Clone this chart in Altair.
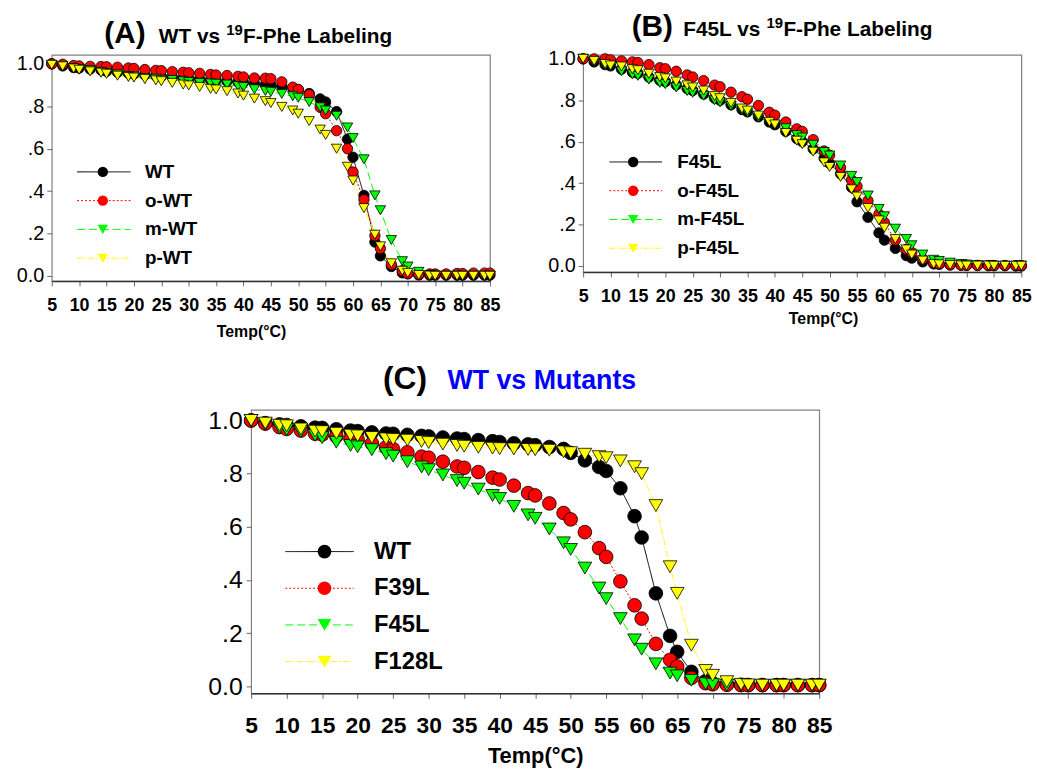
import altair as alt
import pandas as pd

TEMPS = [5, 7, 9, 10, 12, 14, 15, 17, 19, 20, 22, 24, 25, 27, 29, 30, 32, 34, 35,
         37, 39, 40, 42, 44, 45, 47, 49, 50, 52, 54, 55, 57, 59, 60, 62, 64, 65,
         67, 69, 70, 72, 74, 75, 77, 79, 80, 82, 84, 85]

# Panel A
NAMES_A = ["WT", "o-WT", "m-WT", "p-WT"]
A_WT = [1.0, 0.99, 0.982, 0.98, 0.975, 0.97, 0.965, 0.96, 0.955, 0.952, 0.948, 0.943, 0.94,
        0.937, 0.934, 0.932, 0.928, 0.924, 0.922, 0.918, 0.914, 0.912, 0.907, 0.902, 0.9,
        0.893, 0.885, 0.878, 0.86, 0.835, 0.82, 0.775, 0.645, 0.56, 0.38, 0.16, 0.095,
        0.045, 0.015, 0.01, 0.005, 0.004, 0.004, 0.004, 0.004, 0.004, 0.004, 0.004, 0.004]
A_OWT = [1.0, 0.998, 0.992, 0.99, 0.988, 0.987, 0.986, 0.984, 0.98, 0.978, 0.973, 0.969, 0.968,
         0.963, 0.96, 0.958, 0.955, 0.95, 0.947, 0.945, 0.941, 0.938, 0.933, 0.932, 0.93,
         0.915, 0.89, 0.879, 0.855, 0.795, 0.765, 0.685, 0.60, 0.49, 0.36, 0.19, 0.13,
         0.055, 0.025, 0.012, 0.008, 0.01, 0.01, 0.01, 0.012, 0.012, 0.014, 0.014, 0.014]
A_MWT = [0.995, 0.99, 0.98, 0.975, 0.97, 0.962, 0.956, 0.95, 0.942, 0.94, 0.933, 0.93, 0.925,
         0.924, 0.918, 0.914, 0.91, 0.908, 0.906, 0.902, 0.895, 0.891, 0.88, 0.872, 0.868,
         0.858, 0.847, 0.84, 0.82, 0.795, 0.78, 0.755, 0.70, 0.65, 0.55, 0.38, 0.31,
         0.17, 0.07, 0.045, 0.02, 0.005, 0.003, 0.002, 0.002, 0.002, 0.002, 0.002, 0.002]
A_PWT = [0.995, 0.988, 0.978, 0.972, 0.964, 0.958, 0.953, 0.944, 0.938, 0.935, 0.928, 0.922, 0.918,
         0.91, 0.902, 0.898, 0.891, 0.882, 0.879, 0.871, 0.86, 0.85, 0.836, 0.824, 0.815,
         0.797, 0.78, 0.765, 0.73, 0.69, 0.665, 0.60, 0.515, 0.45, 0.32, 0.195, 0.14,
         0.06, 0.025, 0.015, 0.005, 0.002, 0.001, 0.001, 0.001, 0.001, 0.001, 0.001, 0.001]

# Panel B
NAMES_B = ["F45L", "o-F45L", "m-F45L", "p-F45L"]
B_F45L = [1.0, 0.985, 0.972, 0.966, 0.95, 0.935, 0.93, 0.912, 0.896, 0.89, 0.874, 0.856, 0.847,
          0.83, 0.81, 0.80, 0.778, 0.755, 0.744, 0.72, 0.695, 0.682, 0.65, 0.615, 0.60,
          0.565, 0.52, 0.495, 0.445, 0.38, 0.31, 0.235, 0.16, 0.125, 0.085, 0.05, 0.038,
          0.02, 0.01, 0.008, 0.005, 0.004, 0.003, 0.003, 0.002, 0.002, 0.002, 0.0, 0.0]
B_OF45L = [1.0, 1.0, 1.0, 0.995, 0.99, 0.985, 0.982, 0.972, 0.957, 0.952, 0.94, 0.922, 0.912,
           0.895, 0.873, 0.865, 0.839, 0.817, 0.805, 0.775, 0.742, 0.728, 0.695, 0.662, 0.65,
           0.61, 0.555, 0.535, 0.475, 0.415, 0.385, 0.315, 0.25, 0.21, 0.125, 0.08, 0.065,
           0.035, 0.016, 0.01, 0.006, 0.004, 0.003, 0.002, 0.002, 0.002, 0.002, 0.002, 0.002]
B_MF45L = [1.0, 0.985, 0.968, 0.962, 0.94, 0.925, 0.918, 0.90, 0.884, 0.878, 0.862, 0.845, 0.836,
           0.822, 0.80, 0.79, 0.772, 0.752, 0.74, 0.717, 0.695, 0.682, 0.665, 0.632, 0.62,
           0.585, 0.55, 0.533, 0.485, 0.435, 0.405, 0.34, 0.275, 0.24, 0.18, 0.13, 0.10,
           0.055, 0.03, 0.024, 0.016, 0.009, 0.007, 0.004, 0.003, 0.002, 0.002, 0.002, 0.002]
B_PF45L = [1.0, 0.99, 0.975, 0.968, 0.963, 0.95, 0.945, 0.928, 0.912, 0.906, 0.89, 0.872, 0.862,
           0.847, 0.82, 0.81, 0.787, 0.76, 0.75, 0.726, 0.696, 0.683, 0.642, 0.605, 0.588,
           0.552, 0.50, 0.478, 0.43, 0.37, 0.335, 0.28, 0.22, 0.185, 0.13, 0.08, 0.055,
           0.026, 0.01, 0.008, 0.005, 0.003, 0.002, 0.002, 0.002, 0.001, 0.001, 0.001, 0.001]

# Panel C
NAMES_C = ["WT", "F39L", "F45L", "F128L"]
C_WT = [1.0, 0.99, 0.985, 0.983, 0.978, 0.973, 0.972, 0.967, 0.962, 0.96, 0.955, 0.951, 0.95,
        0.946, 0.942, 0.94, 0.936, 0.932, 0.93, 0.926, 0.922, 0.919, 0.914, 0.91, 0.907,
        0.9, 0.893, 0.878, 0.85, 0.825, 0.81, 0.745, 0.64, 0.56, 0.35, 0.19, 0.13,
        0.055, 0.02, 0.012, 0.008, 0.006, 0.005, 0.005, 0.005, 0.005, 0.005, 0.005, 0.005]
C_F39L = [1.0, 0.988, 0.975, 0.968, 0.962, 0.95, 0.947, 0.94, 0.932, 0.928, 0.914, 0.899, 0.892,
          0.88, 0.864, 0.86, 0.845, 0.827, 0.822, 0.806, 0.785, 0.778, 0.755, 0.727, 0.718,
          0.688, 0.652, 0.628, 0.58, 0.52, 0.487, 0.395, 0.305, 0.255, 0.16, 0.10, 0.075,
          0.032, 0.012, 0.008, 0.006, 0.005, 0.005, 0.005, 0.005, 0.005, 0.005, 0.005, 0.005]
C_F45L = [1.0, 0.985, 0.972, 0.966, 0.958, 0.944, 0.935, 0.918, 0.906, 0.901, 0.89, 0.875, 0.866,
          0.845, 0.825, 0.815, 0.795, 0.774, 0.764, 0.742, 0.718, 0.707, 0.677, 0.645, 0.632,
          0.592, 0.54, 0.515, 0.445, 0.37, 0.33, 0.255, 0.175, 0.14, 0.085, 0.05, 0.04,
          0.023, 0.01, 0.007, 0.005, 0.004, 0.004, 0.004, 0.004, 0.004, 0.004, 0.004, 0.004]
C_F128L = [1.0, 0.99, 0.982, 0.98, 0.968, 0.96, 0.958, 0.952, 0.945, 0.942, 0.936, 0.931, 0.929,
           0.926, 0.921, 0.917, 0.911, 0.906, 0.903, 0.899, 0.896, 0.894, 0.893, 0.891, 0.89,
           0.888, 0.882, 0.879, 0.873, 0.864, 0.86, 0.848, 0.826, 0.80, 0.68, 0.45, 0.35,
           0.155, 0.06, 0.042, 0.018, 0.008, 0.006, 0.005, 0.005, 0.005, 0.005, 0.005, 0.005]

X_TICKS = list(range(5, 90, 5))
Y_TICKS = [0, 0.2, 0.4, 0.6, 0.8, 1.0]

COLORS = ["#000000", "#ff0000", "#00ff00", "#ffff00"]
DASHES = [[1, 0], [2, 2], [8, 4], [6, 2, 1.5, 2]]
SHAPES = ["circle", "circle", "triangle-down", "triangle-down"]

FONT = "Liberation Sans"

Y_EXPR = ("datum.value == 0 ? '0.0' : (datum.value == 1 ? '1.0' : "
          "replace(format(datum.value, '.1f'), '0.', '.'))")


def text_mark(txt, x, y, size, color="#000"):
    return alt.Chart(pd.DataFrame({"t": [txt]})).mark_text(
        font=FONT, fontSize=size, fontWeight="bold", align="left",
        baseline="alphabetic", color=color).encode(
        text="t:N", x=alt.value(x), y=alt.value(y))


def panel(names, series, p):
    rows = []
    for name, vals in zip(names, series):
        for t, v in zip(TEMPS, vals):
            rows.append({"T": t, "v": v, "series": name})
    df = pd.DataFrame(rows)
    keys = [n + " " for n in names]

    xs = alt.Scale(domain=[5, 85], nice=False, zero=False)
    ys = alt.Scale(domain=p["ydom"], nice=False, zero=False)
    xextra = {"titleX": p["titleX"]} if "titleX" in p else {}
    xaxis = alt.Axis(values=X_TICKS, tickCount=len(X_TICKS) + 4, title="Temp(°C)", grid=False,
                     labelFont=FONT, labelFontWeight="bold", labelFontSize=p["xls"],
                     labelColor="#000", labelPadding=p["xlp"], labelOverlap=False,
                     labelFlush=False, tickSize=5, tickColor="#666", tickWidth=1,
                     domain=True, domainColor="#333", domainWidth=1.5,
                     titleFont=FONT, titleFontWeight="bold", titleFontSize=p["xts"],
                     titleColor="#000", titlePadding=p["xtp"], **xextra)
    yaxis = alt.Axis(values=Y_TICKS, tickCount=len(Y_TICKS) + 2, labelExpr=Y_EXPR, title=None,
                     grid=False, labelFont=FONT, labelFontWeight="normal",
                     labelFontSize=p["yls"], labelColor="#000", labelPadding=p["ylp"],
                     labelOverlap=False, labelFlush=False, tickSize=5, tickColor="#666",
                     tickWidth=1, domain=False)

    line_leg = alt.Legend(orient="none", legendX=p["lx"], legendY=p["ly"], title=None,
                          symbolType="stroke", symbolSize=p["lw"] ** 2, symbolStrokeWidth=1,
                          clipHeight=p["ch"], rowPadding=p["rp"], padding=0,
                          labelExpr="''", labelFontSize=p["lfs"], labelFont=FONT)
    mk_leg = alt.Legend(orient="none", legendX=p["mx"], legendY=p["ly"], title=None,
                        symbolSize=p["ms"], symbolStrokeColor="#000", symbolStrokeWidth=0.8,
                        symbolOpacity=1, clipHeight=p["ch"], rowPadding=p["rp"], padding=0,
                        labelOffset=p["lo"], labelColor="#000", labelFontSize=p["lfs"],
                        labelFont=FONT, labelFontWeight="bold")

    base = alt.Chart(df)
    lines = base.transform_calculate(key="datum.series + ' '").mark_line(strokeWidth=1).encode(
        x=alt.X("T:Q", scale=xs, axis=xaxis),
        y=alt.Y("v:Q", scale=ys, axis=yaxis),
        color=alt.Color("key:N", scale=alt.Scale(domain=keys, range=COLORS), legend=line_leg),
        strokeDash=alt.StrokeDash("key:N", scale=alt.Scale(domain=keys, range=DASHES),
                                  legend=line_leg),
    )
    pts = base.mark_point(filled=True, opacity=1, stroke="#000", strokeWidth=0.8,
                          size=p["ms"]).encode(
        x=alt.X("T:Q"),
        y=alt.Y("v:Q"),
        fill=alt.Fill("series:N", scale=alt.Scale(domain=names, range=COLORS), legend=mk_leg),
        shape=alt.Shape("series:N", scale=alt.Scale(domain=names, range=SHAPES), legend=mk_leg),
    )
    texts = [text_mark(*seg) for seg in p["title_segments"]]
    return alt.layer(lines, pts, *texts).properties(width=p["w"], height=p["h"])


# title segments: (text, x, y, font size[, colour]) relative to the plot's top-left corner
PA = dict(ydom=[-0.023, 1.042], w=442, h=228, xls=18, xlp=11, xts=16, xtp=9,
          titleX=201, yls=20, ylp=3, lx=25, mx=42, ly=108, lw=54, ch=20, rp=9, lfs=19,
          ms=110, lo=33,
          title_segments=[("(A)", 53, -12, 30), ("WT vs", 108, -12, 21),
                          ("19", 176, -20, 15), ("F-Phe Labeling", 193, -12, 21)])
PB = dict(ydom=[-0.029, 1.019], w=442, h=219, xls=18, xlp=11, xts=16, xtp=5,
          titleX=242, yls=20, ylp=3, lx=26, mx=41, ly=98, lw=53, ch=20, rp=9, lfs=19,
          ms=110, lo=35,
          title_segments=[("(B)", 49, -19, 30), ("F45L vs", 101, -19, 21),
                          ("19", 185, -27, 15), ("F-Phe Labeling", 202, -19, 21)])
PC = dict(ydom=[-0.026, 1.04], w=573, h=286, xls=23, xlp=16, xts=22, xtp=9,
          yls=25, ylp=4, lx=34, mx=62, ly=131, lw=69, ch=24, rp=13.0, lfs=24,
          ms=190, lo=38,
          title_segments=[("(C)", 133, -21, 32), ("WT vs Mutants", 198, -21, 27, "#0000ff")])

pa = panel(NAMES_A, [A_WT, A_OWT, A_MWT, A_PWT], PA)
pb = panel(NAMES_B, [B_F45L, B_OF45L, B_MF45L, B_PF45L], PB)
pc = panel(NAMES_C, [C_WT, C_F39L, C_F45L, C_F128L], PC)

IND = dict(color="independent", fill="independent", shape="independent",
           strokeDash="independent")

top = alt.hconcat(pa, pb, spacing=46).resolve_scale(**IND)
chart = alt.vconcat(top, pc, spacing=22, center=True).resolve_scale(**IND).properties(
    padding={"left": 15, "top": 8, "right": 5, "bottom": 5}, background="white"
).configure_view(stroke="#808080", strokeWidth=1.2)

chart.save("out.html", embed_options={"renderer": "svg", "actions": False})
